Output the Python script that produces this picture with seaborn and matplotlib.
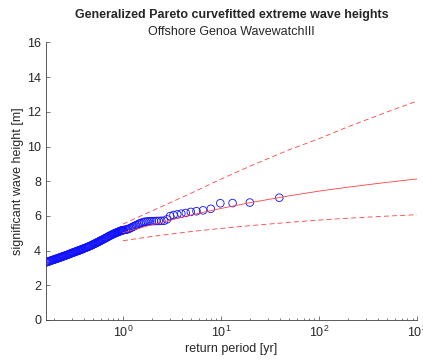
import matplotlib
matplotlib.use("Agg")
import matplotlib.pyplot as plt
import seaborn as sns
import pandas as pd

# empirical return periods [yr] and significant wave heights [m]
period = [0.164, 0.168, 0.172, 0.176, 0.180, 0.184, 0.188, 0.192, 0.196, 0.200,
          0.204, 0.208, 0.212, 0.216, 0.220, 0.224, 0.228, 0.232, 0.236, 0.240,
          0.244, 0.248, 0.254, 0.260, 0.266, 0.272, 0.278, 0.284, 0.290, 0.296,
          0.302, 0.308, 0.314, 0.320, 0.326, 0.332, 0.338, 0.344, 0.350, 0.356,
          0.362, 0.368, 0.374, 0.380, 0.386, 0.392, 0.398, 0.41, 0.42, 0.43,
          0.44, 0.45, 0.46, 0.47, 0.48, 0.49, 0.50, 0.51, 0.52, 0.53,
          0.54, 0.55, 0.56, 0.57, 0.58, 0.59, 0.60, 0.615, 0.630, 0.645,
          0.660, 0.675, 0.690, 0.705, 0.720, 0.735, 0.750, 0.765, 0.780, 0.795,
          0.810, 0.825, 0.840, 0.855, 0.870, 0.885, 0.900, 0.915, 0.930, 0.945,
          0.960, 0.975, 0.990, 1.005, 1.020,
          1.065, 1.094, 1.126, 1.159, 1.194, 1.231, 1.271, 1.313, 1.359, 1.407,
          1.459, 1.515, 1.576, 1.642, 1.713, 1.791, 1.876, 1.970, 2.074, 2.189,
          2.318, 2.463, 2.627, 2.814, 3.031, 3.283, 3.582, 3.940, 4.378, 4.925,
          5.629, 6.567, 7.880, 9.850, 13.13, 19.70, 39.40]
height = [3.32, 3.34, 3.36, 3.38, 3.40, 3.42, 3.44, 3.46, 3.47, 3.49,
          3.51, 3.52, 3.54, 3.56, 3.57, 3.59, 3.60, 3.62, 3.63, 3.65,
          3.66, 3.68, 3.70, 3.72, 3.74, 3.76, 3.78, 3.80, 3.82, 3.84,
          3.86, 3.88, 3.90, 3.91, 3.93, 3.95, 3.96, 3.98, 4.00, 4.01,
          4.02, 4.04, 4.06, 4.07, 4.09, 4.10, 4.12, 4.15, 4.17, 4.19,
          4.22, 4.24, 4.26, 4.29, 4.31, 4.34, 4.36, 4.39, 4.41, 4.43,
          4.46, 4.48, 4.50, 4.52, 4.54, 4.57, 4.59, 4.62, 4.65, 4.68,
          4.71, 4.74, 4.77, 4.80, 4.83, 4.86, 4.88, 4.90, 4.93, 4.95,
          4.97, 5.00, 5.01, 5.03, 5.05, 5.07, 5.08, 5.10, 5.12, 5.13,
          5.15, 5.16, 5.17, 5.18, 5.19,
          5.20, 5.22, 5.24, 5.27, 5.30, 5.34, 5.38, 5.42, 5.46, 5.50,
          5.55, 5.58, 5.62, 5.65, 5.67, 5.68, 5.69, 5.70, 5.70, 5.71,
          5.71, 5.72, 5.72, 5.80, 5.99, 6.05, 6.09, 6.13, 6.17, 6.23,
          6.27, 6.32, 6.41, 6.73, 6.74, 6.77, 7.05]

# fitted GPD return levels and confidence bounds
fit_period = [1, 2, 5, 10, 20, 50, 100, 200, 500, 1000]
fit_level = [5.03, 5.50, 6.06, 6.43, 6.77, 7.16, 7.43, 7.66, 7.94, 8.13]
upper_bound = [5.53, 6.30, 7.32, 8.12, 8.88, 9.82, 10.45, 11.15, 12.00, 12.62]
lower_bound = [4.57, 4.82, 5.10, 5.28, 5.44, 5.63, 5.76, 5.87, 5.99, 6.07]

obs = pd.DataFrame({"period": period, "height": height})
fit = pd.DataFrame({"period": fit_period, "level": fit_level,
                    "upper": upper_bound, "lower": lower_bound})

sns.set_style("ticks")
plt.rcParams["font.family"] = ["Liberation Sans", "DejaVu Sans"]
plt.rcParams["mathtext.fontset"] = "custom"
plt.rcParams["mathtext.rm"] = "Liberation Sans"
plt.rcParams["mathtext.it"] = "Liberation Sans:italic"
plt.rcParams["lines.scale_dashes"] = False
axcol = "#404040"
plt.rcParams["xtick.direction"] = "in"
plt.rcParams["ytick.direction"] = "in"

fig = plt.figure(figsize=(4.23, 3.63), dpi=100)
ax = fig.add_axes([0.1087, 0.1185, 0.8771, 0.7645])

red = "#ff4040"
sns.scatterplot(data=obs, x="period", y="height", ax=ax, marker="o", s=30,
                facecolors="none", edgecolor="#1010ff", linewidth=0.6)
sns.lineplot(data=fit, x="period", y="level", ax=ax, color=red, lw=0.6)
sns.lineplot(data=fit, x="period", y="upper", ax=ax, color=red, lw=0.6,
             linestyle=(0, (3.6, 2.3)))
sns.lineplot(data=fit, x="period", y="lower", ax=ax, color=red, lw=0.6,
             linestyle=(0, (3.6, 2.3)))

ax.set_xscale("log")
ax.set_xlim(0.164, 1000)
ax.set_ylim(0, 16)
ax.set_yticks(range(0, 17, 2))
sns.despine(ax=ax)
for s in ["left", "bottom"]:
    ax.spines[s].set_color(axcol)
    ax.spines[s].set_linewidth(0.6)
ax.tick_params(which="both", colors=axcol, labelcolor="#262626", labelsize=9, width=0.5)
ax.tick_params(which="major", length=3)
ax.tick_params(which="minor", length=1.8)

ax.set_xlabel("return period [yr]", fontsize=9, color="#262626", labelpad=2)
ax.set_ylabel("significant wave height [m]", fontsize=9, color="#262626", labelpad=2)

ax.text(0.5, 1.099, "Generalized Pareto curvefitted extreme wave heights",
        transform=ax.transAxes, ha="center", va="center", fontsize=9, fontweight="bold")
ax.text(0.5, 1.036, "Offshore Genoa WavewatchIII", transform=ax.transAxes,
        ha="center", va="center", fontsize=9)

fig.savefig("out.png", dpi=100)
